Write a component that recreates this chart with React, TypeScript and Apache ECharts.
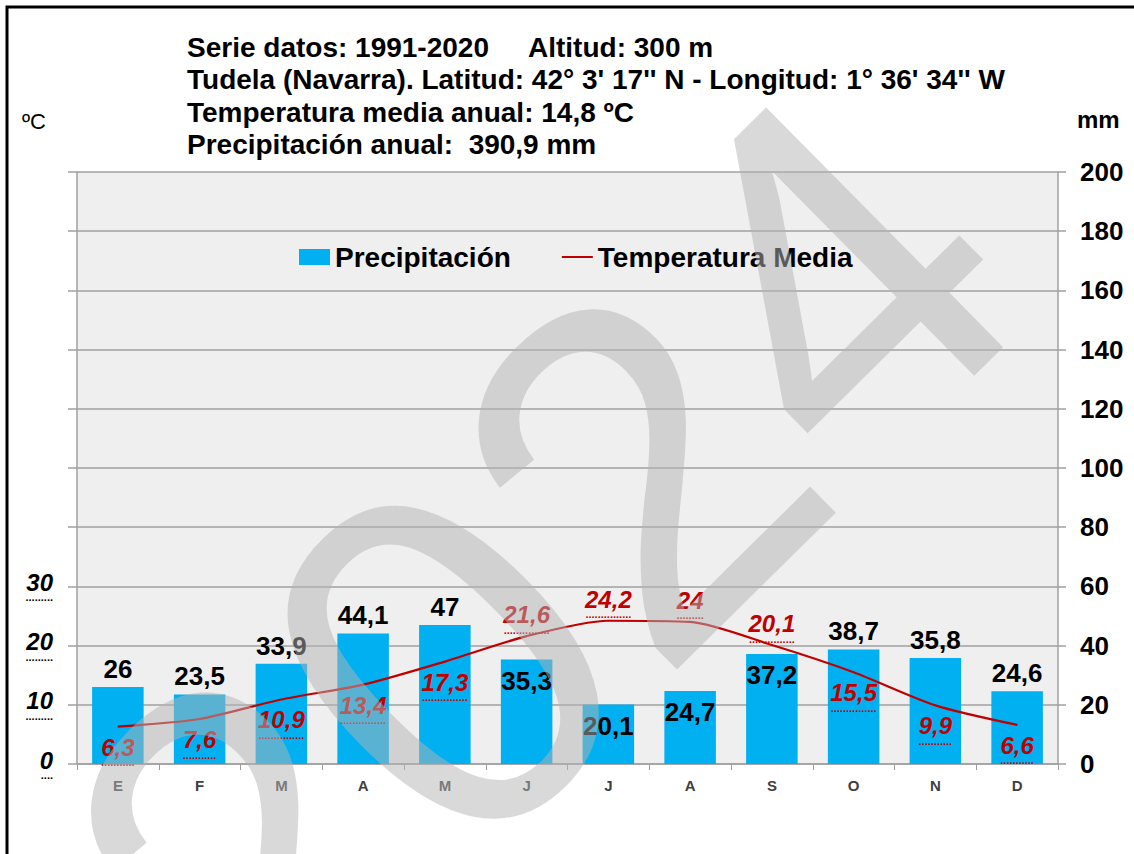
import React, { useEffect, useRef } from "react";
import * as echarts from "echarts";

const months = ["E", "F", "M", "A", "M", "J", "J", "A", "S", "O", "N", "D"];
const precipitation = [26, 23.5, 33.9, 44.1, 47, 35.3, 20.1, 24.7, 37.2, 38.7, 35.8, 24.6];
const temperature = [6.3, 7.6, 10.9, 13.4, 17.3, 21.6, 24.2, 24, 20.1, 15.5, 9.9, 6.6];
const tempTicksShown = [0, 10, 20, 30];
const titleLines = [
  "Serie datos: 1991-2020",
  "Tudela (Navarra). Latitud: 42° 3' 17'' N - Longitud: 1° 36' 34'' W",
  "Temperatura media anual: 14,8 ºC",
  "Precipitación anual:  390,9 mm",
];
const altitudText = "Altitud: 300 m";
const summerIdx = [5, 6, 7, 8];

const FF = '"Liberation Sans", Arial, sans-serif';
const RED = "#c00000";
const GRID = "#a0a0a0";

const fmt = (v: number) => String(v).replace(".", ",");
const dotsFor = (s: string, size: number) => {
  let w = 0;
  for (const ch of s) w += ch === "," ? 0.278 : 0.556;
  const n = Math.max(3, Math.round((w * size) / 3.06));
  return ".".repeat(n);
};

export default function App() {
  const ref = useRef<HTMLDivElement>(null);
  useEffect(() => {
    document.body.style.margin = "0";
    const chart = echarts.init(ref.current!, null, { renderer: "svg" });

    const barData = precipitation.map((v, i) => ({
      value: v,
      label: summerIdx.includes(i)
        ? { position: "insideTop", distance: 8 }
        : { position: "top", distance: 5 },
    }));
    const lineData = temperature.map((v, i) => ({
      value: v,
      label: summerIdx.includes(i)
        ? { position: "top", distance: 2 }
        : { position: "bottom", distance: 9 },
    }));

    const graphic: any[] = [
      {
        type: "rect",
        shape: { x: 7, y: 7, width: 1140, height: 860 },
        style: { fill: "none", stroke: "#000", lineWidth: 3 },
        silent: true,
        z: 0,
      },
      ...titleLines.map((t, i) => ({
        type: "text",
        x: 187,
        y: [47, 79, 112, 144][i],
        style: {
          text: t,
          fill: "#000",
          font: `bold 28px ${FF}`,
          align: "left",
          verticalAlign: "middle",
        },
        z: 10,
      })),
      {
        type: "text",
        x: 528,
        y: 47,
        style: { text: altitudText, fill: "#000", font: `bold 28px ${FF}`, align: "left", verticalAlign: "middle" },
        z: 10,
      },
      {
        type: "text",
        x: 22,
        y: 121,
        style: { text: "ºC", fill: "#000", font: `22px ${FF}`, align: "left", verticalAlign: "middle" },
        z: 10,
      },
      {
        type: "text",
        x: 1077,
        y: 119,
        style: { text: "mm", fill: "#000", font: `bold 24px ${FF}`, align: "left", verticalAlign: "middle" },
        z: 10,
      },
      {
        type: "text",
        x: 540,
        y: 566,
        rotation: 0.78,
        silent: true,
        z: 50,
        style: {
          text: "2024",
          fill: "rgba(180,180,180,0.5)",
          font: `normal 490px ${FF}`,
          align: "center",
          verticalAlign: "middle",
        },
      },
    ];

    const option: any = {
      animation: false,
      backgroundColor: "#fff",
      grid: {
        left: 77,
        right: 76,
        top: 172,
        bottom: 90,
        show: true,
        backgroundColor: "#efefef",
        borderWidth: 0,
      },
      legend: {
        left: 299,
        top: 243,
        padding: 0,
        itemWidth: 31,
        itemHeight: 16,
        itemGap: 50,
        textStyle: { fontSize: 28, fontWeight: "bold", color: "#000", fontFamily: FF },
        data: [
          { name: "Precipitación", icon: "rect" },
          { name: "Temperatura Media", itemStyle: { opacity: 0 } },
        ],
      },
      xAxis: {
        type: "category",
        data: months,
        boundaryGap: true,
        axisLine: { lineStyle: { color: GRID, width: 1.5 } },
        axisTick: { show: true, length: 6, lineStyle: { color: GRID } },
        axisLabel: { margin: 14, fontSize: 15, fontWeight: "bold", color: "#404040", fontFamily: FF },
      },
      yAxis: [
        {
          type: "value",
          min: 0,
          max: 100,
          interval: 10,
          position: "left",
          axisLine: { show: true, lineStyle: { color: GRID, width: 1.5 } },
          axisTick: { show: true, length: 9, lineStyle: { color: GRID, width: 1.5 } },
          splitLine: { show: false },
          axisLabel: {
            margin: 24,
            formatter: (v: number) =>
              tempTicksShown.includes(v) ? `{v|${v}}\n{u|${dotsFor(String(v), 24)}}` : "",
            rich: {
              v: { fontSize: 24, fontStyle: "italic", fontWeight: "bold", color: "#000", fontFamily: FF, lineHeight: 22 },
              u: { fontSize: 11, fontWeight: "bold", color: "#000", fontFamily: FF, lineHeight: 8 },
            },
          },
        },
        {
          type: "value",
          min: 0,
          max: 200,
          interval: 20,
          position: "right",
          axisLine: { show: true, lineStyle: { color: GRID, width: 1.5 } },
          axisTick: { show: true, length: 8, lineStyle: { color: GRID, width: 1.5 } },
          splitLine: { show: true, lineStyle: { color: GRID, width: 1.5 } },
          axisLabel: { margin: 22, fontSize: 26, fontWeight: "bold", color: "#000", fontFamily: FF },
        },
      ],
      series: [
        {
          name: "Precipitación",
          type: "bar",
          yAxisIndex: 1,
          barWidth: "63%",
          itemStyle: { color: "#00b0f0" },
          data: barData,
          label: {
            show: true,
            fontSize: 26,
            fontWeight: "bold",
            color: "#000",
            fontFamily: FF,
            formatter: (p: any) => fmt(p.value),
          },
          z: 2,
        },
        {
          name: "Temperatura Media",
          type: "line",
          yAxisIndex: 0,
          smooth: 0.25,
          symbol: "circle",
          symbolSize: 1,
          showSymbol: true,
          lineStyle: { color: RED, width: 2.2 },
          itemStyle: { color: RED },
          data: lineData,
          label: {
            show: true,
            formatter: (p: any) => `{v|${fmt(p.value)}}\n{u|${dotsFor(fmt(p.value), 24)}}`,
            rich: {
              v: { fontSize: 24, fontStyle: "italic", fontWeight: "bold", color: RED, fontFamily: FF, lineHeight: 22 },
              u: { fontSize: 11, fontWeight: "bold", color: RED, fontFamily: FF, lineHeight: 8 },
            },
          },
          z: 3,
        },
      ],
      graphic,
    };
    chart.setOption(option);
    return () => chart.dispose();
  }, []);
  return <div ref={ref} style={{ position: "absolute", left: 0, top: 0, width: 1134, height: 854 }} />;
}
